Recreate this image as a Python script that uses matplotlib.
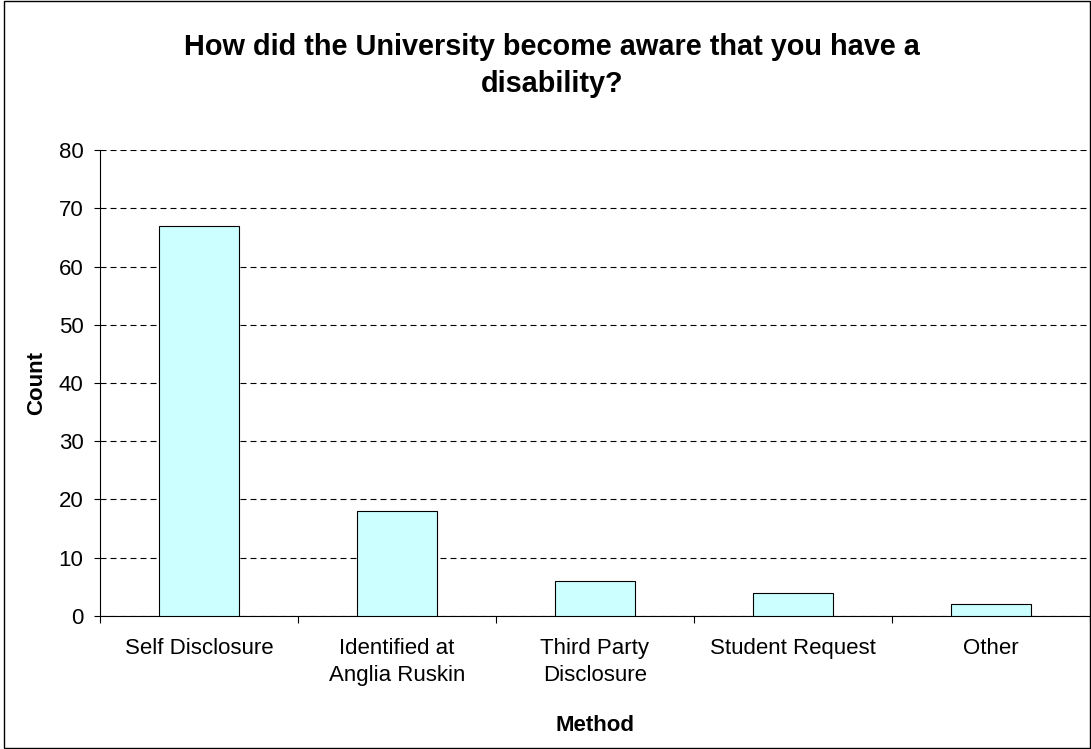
import matplotlib.pyplot as plt
from matplotlib.patches import Rectangle

plt.rcParams["font.family"] = ["Liberation Sans", "DejaVu Sans"]

categories = ["Self Disclosure", "Identified at\nAnglia Ruskin", "Third Party\nDisclosure",
              "Student Request", "Other"]
counts = [67, 18, 6, 4, 2]

fig = plt.figure(figsize=(10.91, 7.49), dpi=100)
ax = fig.add_axes([0.0917, 0.1776, 0.9073, 0.6221])

x = range(len(categories))
ax.bar(x, counts, width=0.4, color="#ccffff", edgecolor="black", linewidth=0.8, zorder=3)

ax.set_xlim(-0.5, len(categories) - 0.5)
ax.set_ylim(0, 80)
ax.set_yticks(range(0, 81, 10))
ax.set_xticks(list(x))
ax.set_xticklabels(categories, fontsize=16, linespacing=1.38)
ax.set_xticks([i - 0.5 for i in range(len(categories) + 1)], minor=True)
ax.tick_params(axis="x", which="major", length=0, pad=16)
ax.tick_params(axis="x", which="minor", length=5, direction="out", width=0.8)
ax.tick_params(axis="y", length=4, width=0.8, labelsize=16, pad=8)

ax.yaxis.grid(True, linestyle=(0, (5.4, 3.6)), color="black", linewidth=0.8)
ax.set_axisbelow(True)
for s in ["top", "right"]:
    ax.spines[s].set_visible(False)
ax.spines["left"].set_linewidth(0.8)
ax.spines["bottom"].set_linewidth(0.8)

ax.set_ylabel("Count", fontsize=16, fontweight="bold")
ax.yaxis.set_label_coords(-0.0645, 0.5)
ax.set_xlabel("Method", fontsize=16, fontweight="bold")
ax.xaxis.set_label_coords(0.5, -0.236)
ax.xaxis.label.set_va("center")
ax.yaxis.label.set_va("center")

fig.text(0.506, 0.913, "How did the University become aware that you have a\ndisability?",
         ha="center", va="center", fontsize=20.8, fontweight="bold", linespacing=1.42)

# figure border
fig.patches.append(Rectangle((0.004, 0.001), 0.995, 0.998, transform=fig.transFigure,
                             fill=False, edgecolor="black", linewidth=1))

fig.savefig("out.png", dpi=100)
